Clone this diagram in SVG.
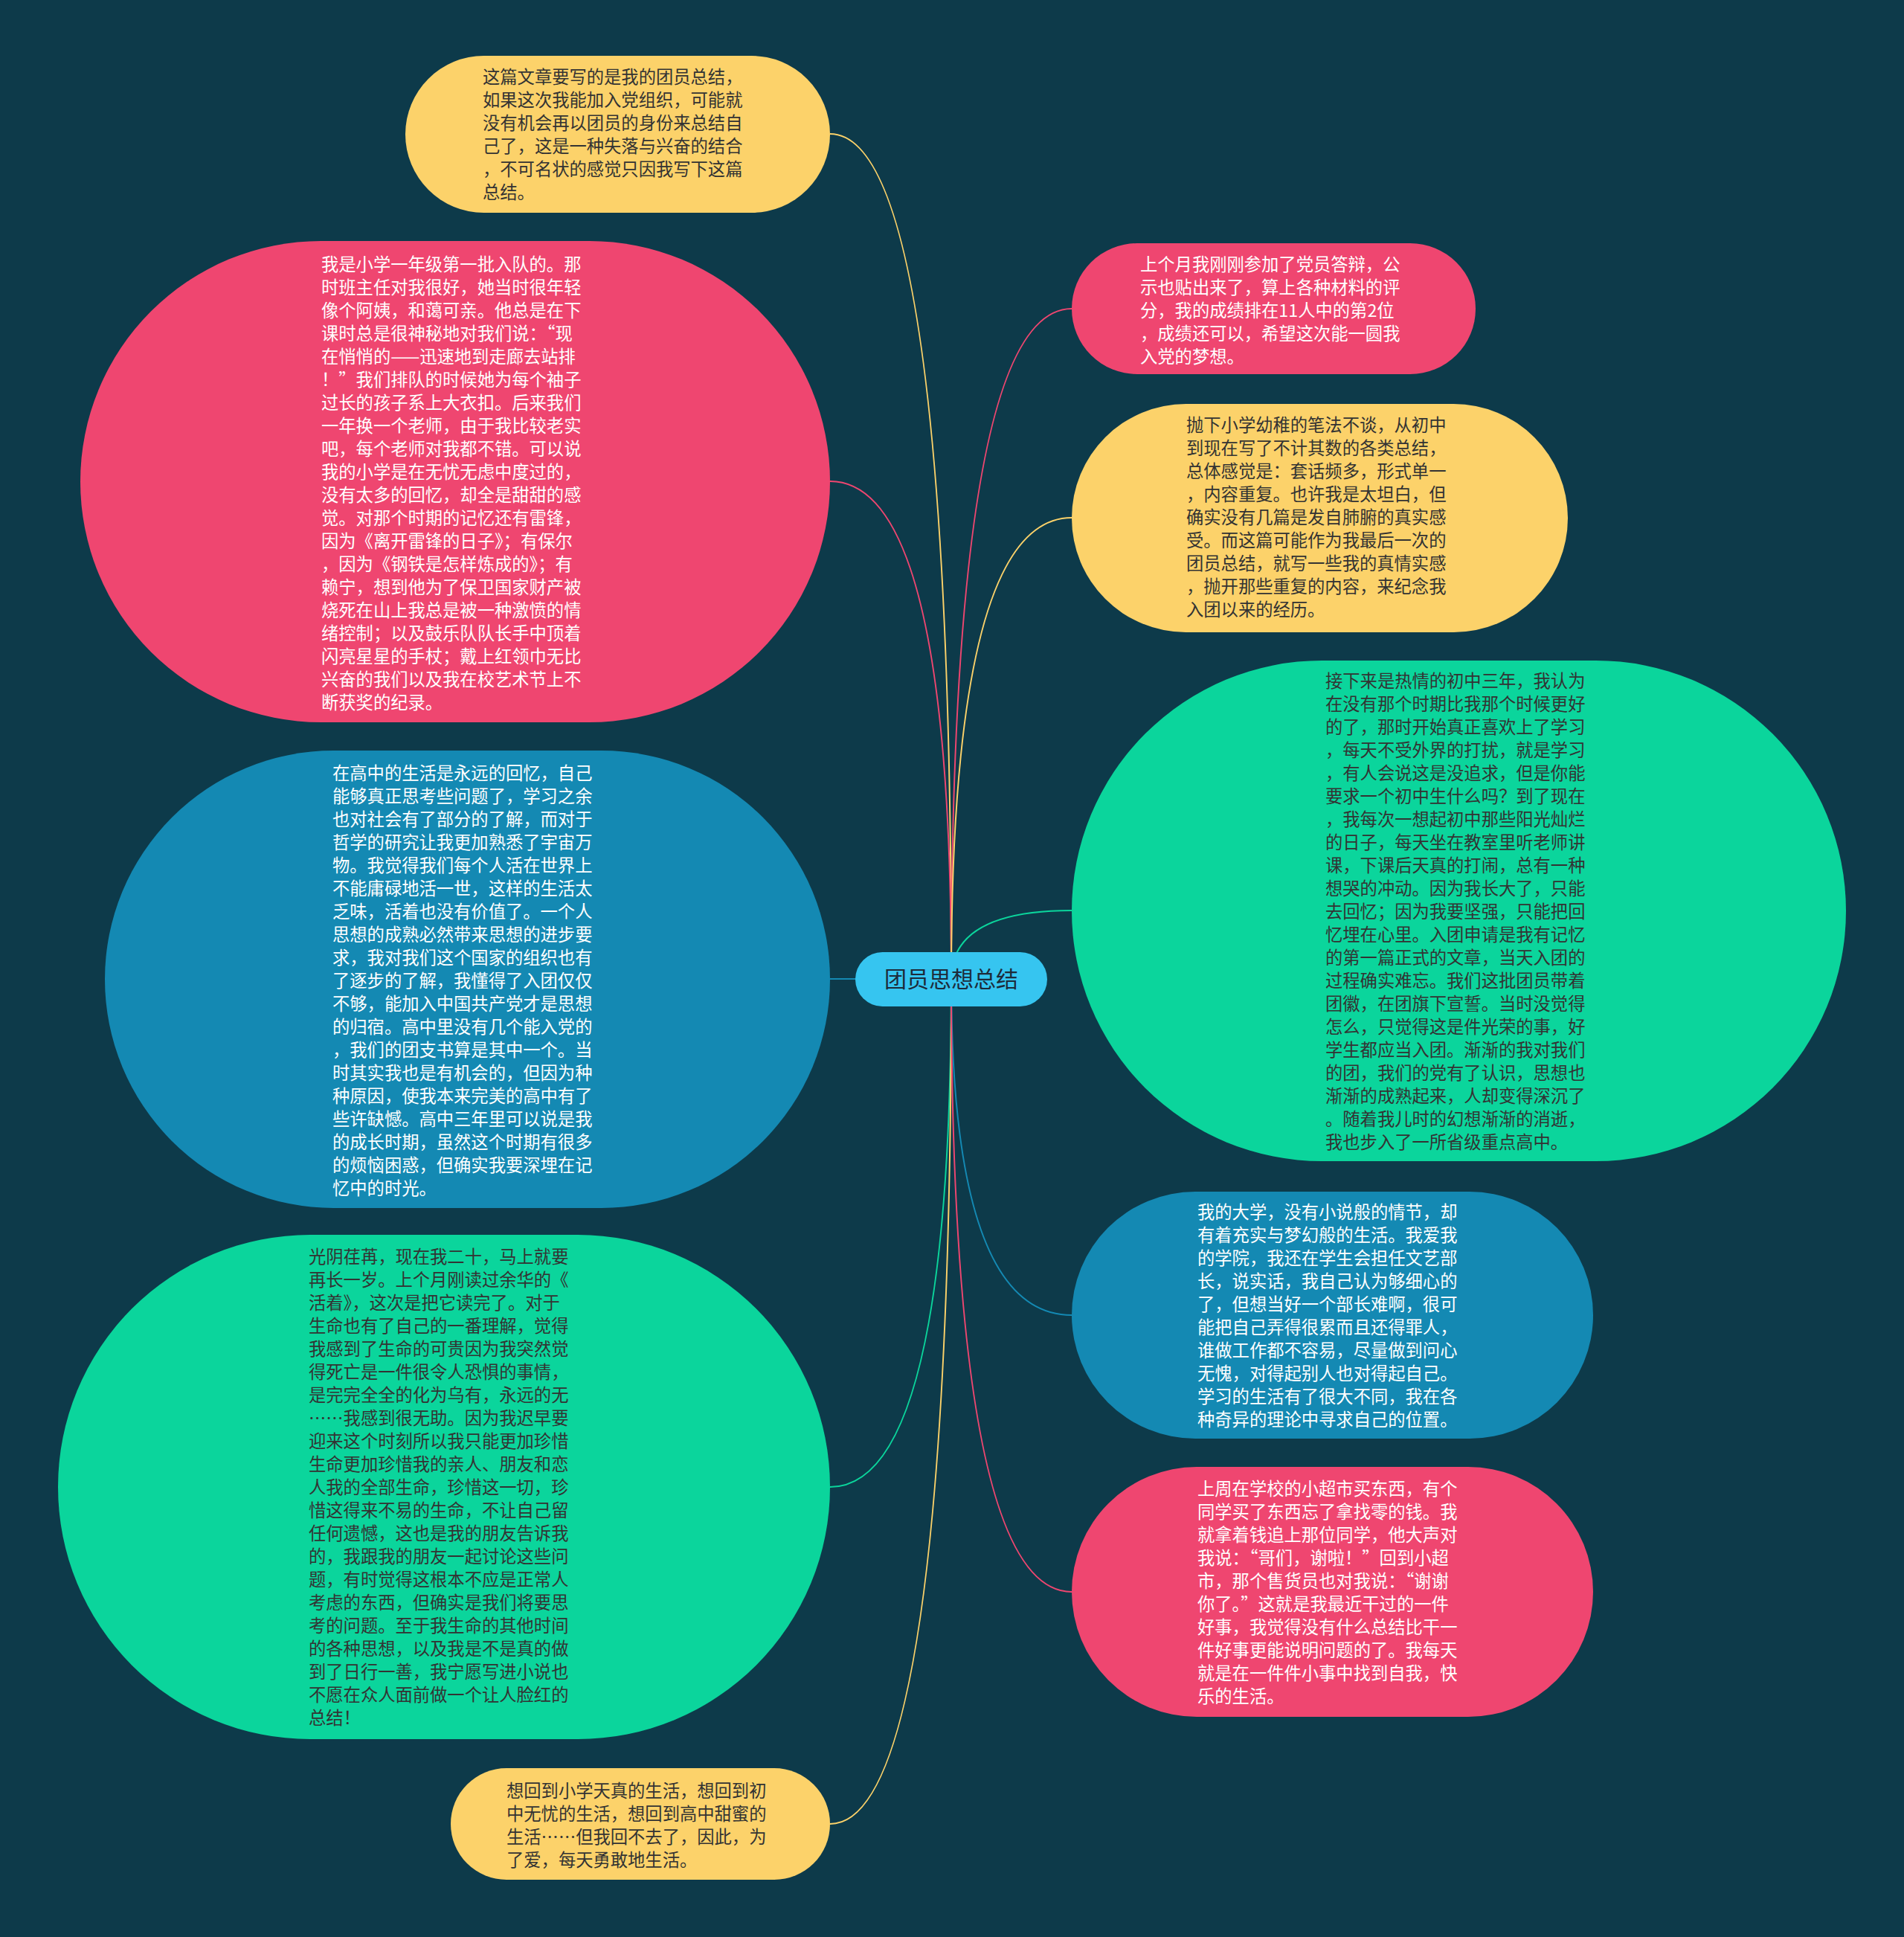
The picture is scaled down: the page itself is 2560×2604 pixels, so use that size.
<svg xmlns="http://www.w3.org/2000/svg" width="2560" height="2604" viewBox="0 0 2560 2604">
<style>
.t{font-family:"Noto Sans CJK SC","Noto Sans",sans-serif;font-size:23.3px}
.dk{fill:#333333}
.lt{fill:#ffffff}
.c{fill:none;stroke-width:2}
.fw{font-feature-settings:"fwid" 1}
</style>
<rect x="0" y="0" width="2560" height="2604" fill="#0d3a4a"/>
<g id="connectors">
<path class="c" stroke="#fcd26a" d="M1279 1316 Q1279 180 1116 180"/>
<path class="c" stroke="#ef4670" d="M1279 1316 Q1279 647 1116 647"/>
<path class="c" stroke="#1489b3" d="M1279 1316 L1116 1316"/>
<path class="c" stroke="#0bd59c" d="M1279 1316 Q1279 1999 1116 1999"/>
<path class="c" stroke="#fcd26a" d="M1279 1316 Q1279 2452 1116 2452"/>
<path class="c" stroke="#ef4670" d="M1279 1316 Q1279 415 1441 415"/>
<path class="c" stroke="#fcd26a" d="M1279 1316 Q1279 696 1441 696"/>
<path class="c" stroke="#0bd59c" d="M1279 1316 Q1279 1224 1441 1224"/>
<path class="c" stroke="#1489b3" d="M1279 1316 Q1279 1768 1441 1768"/>
<path class="c" stroke="#ef4670" d="M1279 1316 Q1279 2140 1441 2140"/>
</g>
<g id="center">
<rect x="1150" y="1280" width="258" height="73" rx="36.5" fill="#36c5f0"/>
<text x="1279" y="1327" text-anchor="middle" style="font-family:'Noto Sans CJK SC','Noto Sans',sans-serif;font-size:30px" fill="#1d2b3a">团员思想总结</text>
</g>
<g id="n1">
<rect x="545" y="75" width="571" height="211" rx="105.5" fill="#fcd26a"/>
<text class="t dk" x="649" y="112"><tspan x="649">这篇文章要写的是我的团员总结，</tspan><tspan x="649" dy="31">如果这次我能加入党组织，可能就</tspan><tspan x="649" dy="31">没有机会再以团员的身份来总结自</tspan><tspan x="649" dy="31">己了，这是一种失落与兴奋的结合</tspan><tspan x="649" dy="31">，不可名状的感觉只因我写下这篇</tspan><tspan x="649" dy="31">总结。</tspan></text>
</g>
<g id="n2">
<rect x="108" y="324" width="1008" height="647" rx="323.5" fill="#ef4670"/>
<text class="t lt" x="432" y="364"><tspan x="432">我是小学一年级第一批入队的。那</tspan><tspan x="432" dy="31">时班主任对我很好，她当时很年轻</tspan><tspan x="432" dy="31">像个阿姨，和蔼可亲。他总是在下</tspan><tspan class="fw" x="432" dy="31">课时总是很神秘地对我们说：“现</tspan><tspan x="432" dy="31">在悄悄的——迅速地到走廊去站排</tspan><tspan class="fw" x="432" dy="31">！”我们排队的时候她为每个袖子</tspan><tspan x="432" dy="31">过长的孩子系上大衣扣。后来我们</tspan><tspan x="432" dy="31">一年换一个老师，由于我比较老实</tspan><tspan x="432" dy="31">吧，每个老师对我都不错。可以说</tspan><tspan x="432" dy="31">我的小学是在无忧无虑中度过的，</tspan><tspan x="432" dy="31">没有太多的回忆，却全是甜甜的感</tspan><tspan x="432" dy="31">觉。对那个时期的记忆还有雷锋，</tspan><tspan x="432" dy="31">因为《离开雷锋的日子》；有保尔</tspan><tspan x="432" dy="31">，因为《钢铁是怎样炼成的》；有</tspan><tspan x="432" dy="31">赖宁，想到他为了保卫国家财产被</tspan><tspan x="432" dy="31">烧死在山上我总是被一种激愤的情</tspan><tspan x="432" dy="31">绪控制；以及鼓乐队队长手中顶着</tspan><tspan x="432" dy="31">闪亮星星的手杖；戴上红领巾无比</tspan><tspan x="432" dy="31">兴奋的我们以及我在校艺术节上不</tspan><tspan x="432" dy="31">断获奖的纪录。</tspan></text>
</g>
<g id="n3">
<rect x="141" y="1009" width="975" height="615" rx="307.5" fill="#1489b3"/>
<text class="t lt" x="447" y="1048"><tspan x="447">在高中的生活是永远的回忆，自己</tspan><tspan x="447" dy="31">能够真正思考些问题了，学习之余</tspan><tspan x="447" dy="31">也对社会有了部分的了解，而对于</tspan><tspan x="447" dy="31">哲学的研究让我更加熟悉了宇宙万</tspan><tspan x="447" dy="31">物。我觉得我们每个人活在世界上</tspan><tspan x="447" dy="31">不能庸碌地活一世，这样的生活太</tspan><tspan x="447" dy="31">乏味，活着也没有价值了。一个人</tspan><tspan x="447" dy="31">思想的成熟必然带来思想的进步要</tspan><tspan x="447" dy="31">求，我对我们这个国家的组织也有</tspan><tspan x="447" dy="31">了逐步的了解，我懂得了入团仅仅</tspan><tspan x="447" dy="31">不够，能加入中国共产党才是思想</tspan><tspan x="447" dy="31">的归宿。高中里没有几个能入党的</tspan><tspan x="447" dy="31">，我们的团支书算是其中一个。当</tspan><tspan x="447" dy="31">时其实我也是有机会的，但因为种</tspan><tspan x="447" dy="31">种原因，使我本来完美的高中有了</tspan><tspan x="447" dy="31">些许缺憾。高中三年里可以说是我</tspan><tspan x="447" dy="31">的成长时期，虽然这个时期有很多</tspan><tspan x="447" dy="31">的烦恼困惑，但确实我要深埋在记</tspan><tspan x="447" dy="31">忆中的时光。</tspan></text>
</g>
<g id="n4">
<rect x="78" y="1660" width="1038" height="678" rx="339" fill="#0bd59c"/>
<text class="t dk" x="415" y="1698"><tspan x="415">光阴荏苒，现在我二十，马上就要</tspan><tspan x="415" dy="31">再长一岁。上个月刚读过余华的《</tspan><tspan x="415" dy="31">活着》，这次是把它读完了。对于</tspan><tspan x="415" dy="31">生命也有了自己的一番理解，觉得</tspan><tspan x="415" dy="31">我感到了生命的可贵因为我突然觉</tspan><tspan x="415" dy="31">得死亡是一件很令人恐惧的事情，</tspan><tspan x="415" dy="31">是完完全全的化为乌有，永远的无</tspan><tspan x="415" dy="31">……我感到很无助。因为我迟早要</tspan><tspan x="415" dy="31">迎来这个时刻所以我只能更加珍惜</tspan><tspan x="415" dy="31">生命更加珍惜我的亲人、朋友和恋</tspan><tspan x="415" dy="31">人我的全部生命，珍惜这一切，珍</tspan><tspan x="415" dy="31">惜这得来不易的生命，不让自己留</tspan><tspan x="415" dy="31">任何遗憾，这也是我的朋友告诉我</tspan><tspan x="415" dy="31">的，我跟我的朋友一起讨论这些问</tspan><tspan x="415" dy="31">题，有时觉得这根本不应是正常人</tspan><tspan x="415" dy="31">考虑的东西，但确实是我们将要思</tspan><tspan x="415" dy="31">考的问题。至于我生命的其他时间</tspan><tspan x="415" dy="31">的各种思想，以及我是不是真的做</tspan><tspan x="415" dy="31">到了日行一善，我宁愿写进小说也</tspan><tspan x="415" dy="31">不愿在众人面前做一个让人脸红的</tspan><tspan x="415" dy="31">总结！</tspan></text>
</g>
<g id="n5">
<rect x="606" y="2377" width="510" height="150" rx="75" fill="#fcd26a"/>
<text class="t dk" x="681" y="2416"><tspan x="681">想回到小学天真的生活，想回到初</tspan><tspan x="681" dy="31">中无忧的生活，想回到高中甜蜜的</tspan><tspan x="681" dy="31">生活……但我回不去了，因此，为</tspan><tspan x="681" dy="31">了爱，每天勇敢地生活。</tspan></text>
</g>
<g id="n6">
<rect x="1441" y="327" width="543" height="176" rx="88" fill="#ef4670"/>
<text class="t lt" x="1533" y="364"><tspan x="1533">上个月我刚刚参加了党员答辩，公</tspan><tspan x="1533" dy="31">示也贴出来了，算上各种材料的评</tspan><tspan x="1533" dy="31">分，我的成绩排在11人中的第2位</tspan><tspan x="1533" dy="31">，成绩还可以，希望这次能一圆我</tspan><tspan x="1533" dy="31">入党的梦想。</tspan></text>
</g>
<g id="n7">
<rect x="1441" y="543" width="667" height="307" rx="153.5" fill="#fcd26a"/>
<text class="t dk" x="1595" y="580"><tspan x="1595">抛下小学幼稚的笔法不谈，从初中</tspan><tspan x="1595" dy="31">到现在写了不计其数的各类总结，</tspan><tspan x="1595" dy="31">总体感觉是：套话频多，形式单一</tspan><tspan x="1595" dy="31">，内容重复。也许我是太坦白，但</tspan><tspan x="1595" dy="31">确实没有几篇是发自肺腑的真实感</tspan><tspan x="1595" dy="31">受。而这篇可能作为我最后一次的</tspan><tspan x="1595" dy="31">团员总结，就写一些我的真情实感</tspan><tspan x="1595" dy="31">，抛开那些重复的内容，来纪念我</tspan><tspan x="1595" dy="31">入团以来的经历。</tspan></text>
</g>
<g id="n8">
<rect x="1441" y="888" width="1041" height="673" rx="336.5" fill="#0bd59c"/>
<text class="t dk" x="1782" y="924"><tspan x="1782">接下来是热情的初中三年，我认为</tspan><tspan x="1782" dy="31">在没有那个时期比我那个时候更好</tspan><tspan x="1782" dy="31">的了，那时开始真正喜欢上了学习</tspan><tspan x="1782" dy="31">，每天不受外界的打扰，就是学习</tspan><tspan x="1782" dy="31">，有人会说这是没追求，但是你能</tspan><tspan x="1782" dy="31">要求一个初中生什么吗？到了现在</tspan><tspan x="1782" dy="31">，我每次一想起初中那些阳光灿烂</tspan><tspan x="1782" dy="31">的日子，每天坐在教室里听老师讲</tspan><tspan x="1782" dy="31">课，下课后天真的打闹，总有一种</tspan><tspan x="1782" dy="31">想哭的冲动。因为我长大了，只能</tspan><tspan x="1782" dy="31">去回忆；因为我要坚强，只能把回</tspan><tspan x="1782" dy="31">忆埋在心里。入团申请是我有记忆</tspan><tspan x="1782" dy="31">的第一篇正式的文章，当天入团的</tspan><tspan x="1782" dy="31">过程确实难忘。我们这批团员带着</tspan><tspan x="1782" dy="31">团徽，在团旗下宣誓。当时没觉得</tspan><tspan x="1782" dy="31">怎么，只觉得这是件光荣的事，好</tspan><tspan x="1782" dy="31">学生都应当入团。渐渐的我对我们</tspan><tspan x="1782" dy="31">的团，我们的党有了认识，思想也</tspan><tspan x="1782" dy="31">渐渐的成熟起来，人却变得深沉了</tspan><tspan x="1782" dy="31">。随着我儿时的幻想渐渐的消逝，</tspan><tspan x="1782" dy="31">我也步入了一所省级重点高中。</tspan></text>
</g>
<g id="n9">
<rect x="1441" y="1602" width="701" height="332" rx="166" fill="#1489b3"/>
<text class="t lt" x="1610" y="1638"><tspan x="1610">我的大学，没有小说般的情节，却</tspan><tspan x="1610" dy="31">有着充实与梦幻般的生活。我爱我</tspan><tspan x="1610" dy="31">的学院，我还在学生会担任文艺部</tspan><tspan x="1610" dy="31">长，说实话，我自己认为够细心的</tspan><tspan x="1610" dy="31">了，但想当好一个部长难啊，很可</tspan><tspan x="1610" dy="31">能把自己弄得很累而且还得罪人，</tspan><tspan x="1610" dy="31">谁做工作都不容易，尽量做到问心</tspan><tspan x="1610" dy="31">无愧，对得起别人也对得起自己。</tspan><tspan x="1610" dy="31">学习的生活有了很大不同，我在各</tspan><tspan x="1610" dy="31">种奇异的理论中寻求自己的位置。</tspan></text>
</g>
<g id="n10">
<rect x="1441" y="1972" width="701" height="336" rx="168" fill="#ef4670"/>
<text class="t lt" x="1610" y="2010"><tspan x="1610">上周在学校的小超市买东西，有个</tspan><tspan x="1610" dy="31">同学买了东西忘了拿找零的钱。我</tspan><tspan x="1610" dy="31">就拿着钱追上那位同学，他大声对</tspan><tspan class="fw" x="1610" dy="31">我说：“哥们，谢啦！”回到小超</tspan><tspan class="fw" x="1610" dy="31">市，那个售货员也对我说：“谢谢</tspan><tspan class="fw" x="1610" dy="31">你了。”这就是我最近干过的一件</tspan><tspan x="1610" dy="31">好事，我觉得没有什么总结比干一</tspan><tspan x="1610" dy="31">件好事更能说明问题的了。我每天</tspan><tspan x="1610" dy="31">就是在一件件小事中找到自我，快</tspan><tspan x="1610" dy="31">乐的生活。</tspan></text>
</g>
</svg>
